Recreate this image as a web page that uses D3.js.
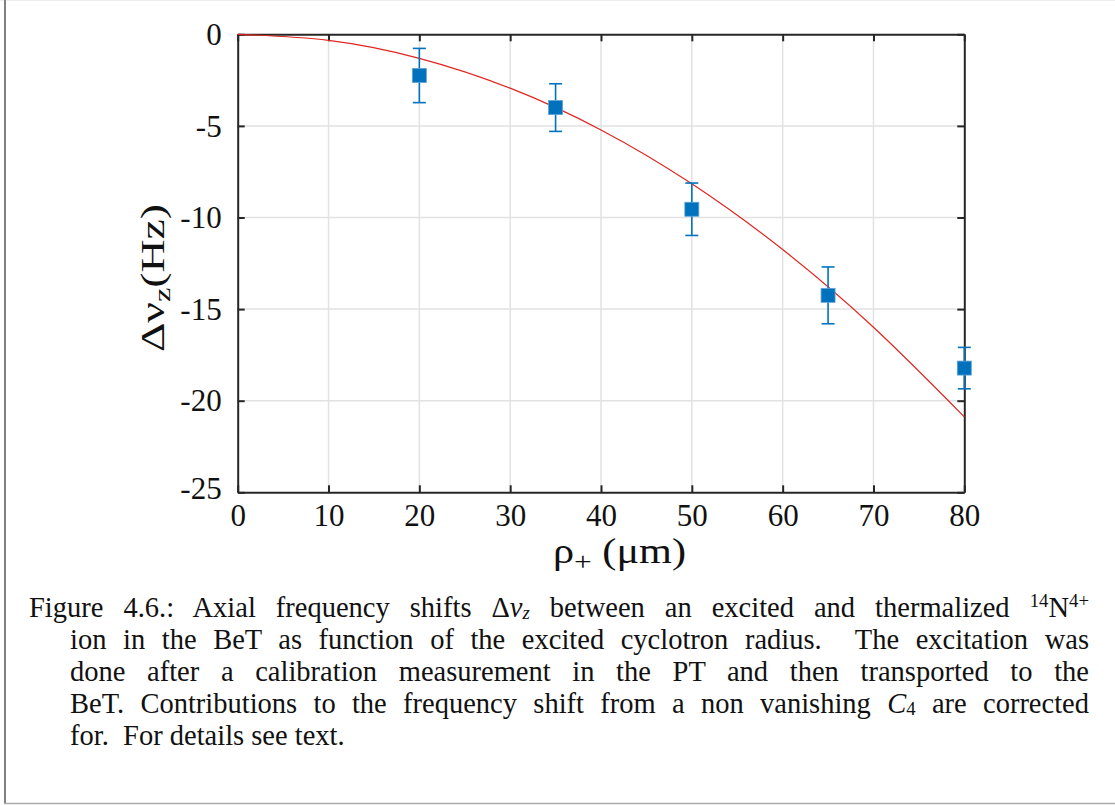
<!DOCTYPE html>
<html>
<head>
<meta charset="utf-8">
<script src="https://cdn.jsdelivr.net/npm/d3@7"></script>
<style>
  body { margin: 0; background: #fff; }
  #wrap { position: relative; width: 1115px; height: 805px; overflow: hidden; }
  svg { position: absolute; left: 0; top: 0; }
  .cap { position: absolute; font-family: "Liberation Serif", serif; font-size: 28.5px; color: #111; white-space: nowrap; }
  .just { text-align: justify; text-align-last: justify; white-space: normal; }
  .cap sup, .cap sub { font-size: 66%; line-height: 0; }
  .cap sub { vertical-align: -0.12em; }
</style>
</head>
<body>
<div id="wrap"></div>
<script>
// measured points
const rho = [20, 35, 50, 65, 80];
const shift = [-2.25, -4.0, -9.55, -14.25, -18.22];
const shiftErr = [1.48, 1.3, 1.43, 1.55, 1.13];

// fit curve
const fitRho = [0, 10, 20, 30, 40, 50, 60, 70, 80];
const fitShift = [0, -0.33, -1.31, -2.94, -5.22, -8.16, -11.75, -15.99, -20.88];

const xTicks = [0, 10, 20, 30, 40, 50, 60, 70, 80];
const yTicks = [0, -5, -10, -15, -20, -25];

const width = 1115;
const height = 805;
const plotL = 237.7, plotR = 964.3, plotT = 34.3, plotB = 492.3;

const wrap = d3.select("#wrap");
const svg = wrap.append("svg").attr("width", width).attr("height", height);

// page frame
svg.append("line").attr("x1", 0).attr("x2", width).attr("y1", 0.5).attr("y2", 0.5)
  .attr("stroke", "#eeeeee").attr("stroke-width", 1);
svg.append("line").attr("x1", 5).attr("x2", 5).attr("y1", 0).attr("y2", 804)
  .attr("stroke", "#808080").attr("stroke-width", 2);
svg.append("line").attr("x1", 4).attr("x2", width).attr("y1", 803.5).attr("y2", 803.5)
  .attr("stroke", "#aaaaaa").attr("stroke-width", 1.5);

const x = d3.scaleLinear().domain([0, 80]).range([plotL, plotR]);
const y = d3.scaleLinear().domain([-25, 0]).range([plotB, plotT]);

// grid
const grid = svg.append("g");
grid.selectAll(".gx").data(xTicks.slice(1, -1)).enter().append("line")
  .attr("x1", d => x(d)).attr("x2", d => x(d)).attr("y1", plotT).attr("y2", plotB)
  .attr("stroke", "#e2e2e2").attr("stroke-width", 1.5);
grid.selectAll(".gy").data(yTicks.slice(1, -1)).enter().append("line")
  .attr("x1", plotL).attr("x2", plotR).attr("y1", d => y(d)).attr("y2", d => y(d))
  .attr("stroke", "#e2e2e2").attr("stroke-width", 1.5);

// axes (ticks inside, box on)
const axisColor = "#262626";
const tl = 7;
const axB = svg.append("g").attr("transform", `translate(0,${plotB})`)
  .call(d3.axisBottom(x).tickValues(xTicks).tickSizeInner(-tl).tickSizeOuter(0).tickPadding(14));
const axT = svg.append("g").attr("transform", `translate(0,${plotT})`)
  .call(d3.axisTop(x).tickValues(xTicks).tickSizeInner(-tl).tickSizeOuter(0).tickFormat(""));
const axL = svg.append("g").attr("transform", `translate(${plotL},0)`)
  .call(d3.axisLeft(y).tickValues(yTicks).tickSizeInner(-tl).tickSizeOuter(0).tickPadding(16));
const axR = svg.append("g").attr("transform", `translate(${plotR},0)`)
  .call(d3.axisRight(y).tickValues(yTicks).tickSizeInner(-tl).tickSizeOuter(0).tickFormat(""));

[axB, axT, axL, axR].forEach(a => {
  a.select(".domain").attr("stroke", axisColor).attr("stroke-width", 2);
  a.selectAll(".tick line").attr("stroke", axisColor).attr("stroke-width", 2);
  a.selectAll(".tick text").attr("fill", "#111")
    .attr("font-family", "'Liberation Serif', serif").attr("font-size", 31);
});
axB.selectAll(".tick text").attr("dy", "0.71em").attr("y", 12);
axL.selectAll(".tick text").text(d => d === 0 ? "0" : "-" + Math.abs(d)).attr("dy", "0.33em");
axL.selectAll(".tick").filter(d => d === -25).select("text").attr("dy", "0.2em");

// fit curve
const line = d3.line().x((d, i) => x(fitRho[i])).y(d => y(d)).curve(d3.curveNatural);
svg.append("path").datum(fitShift).attr("d", line)
  .attr("fill", "none").attr("stroke", "#e0251f").attr("stroke-width", 1.2);

// error bars
const blue = "#0072bd";
const pts = svg.append("g");
const eb = pts.selectAll(".eb").data(rho).enter().append("g");
eb.append("line")
  .attr("x1", d => x(d)).attr("x2", d => x(d))
  .attr("y1", (d, i) => y(shift[i] + shiftErr[i])).attr("y2", (d, i) => y(shift[i] - shiftErr[i]))
  .attr("stroke", blue).attr("stroke-width", 1.6);
[1, -1].forEach(s => {
  eb.append("line")
    .attr("x1", d => x(d) - 6.5).attr("x2", d => x(d) + 6.5)
    .attr("y1", (d, i) => y(shift[i] + s * shiftErr[i])).attr("y2", (d, i) => y(shift[i] + s * shiftErr[i]))
    .attr("stroke", blue).attr("stroke-width", 1.6);
});
eb.append("rect")
  .attr("x", d => x(d) - 7).attr("y", (d, i) => y(shift[i]) - 7)
  .attr("width", 14).attr("height", 14)
  .attr("fill", blue).attr("stroke", "#5fa3d6").attr("stroke-width", 0.8);

// axis labels
const ylab = svg.append("text")
  .attr("transform", `translate(164,278) rotate(-90)`)
  .attr("text-anchor", "middle")
  .attr("font-family", "'Liberation Serif', serif").attr("font-size", 34).attr("fill", "#111")
  .attr("textLength", 148).attr("lengthAdjust", "spacingAndGlyphs");
ylab.append("tspan").text("Δν");
ylab.append("tspan").attr("font-size", 24).attr("dy", 6).text("z");
ylab.append("tspan").attr("dy", -6).text("(Hz)");

const xlab = svg.append("text")
  .attr("x", 619.5).attr("y", 563)
  .attr("text-anchor", "middle")
  .attr("font-family", "'Liberation Serif', serif").attr("font-size", 35).attr("fill", "#111")
  .attr("textLength", 133).attr("lengthAdjust", "spacingAndGlyphs");
xlab.append("tspan").text("ρ");
xlab.append("tspan").attr("font-size", 26).attr("dy", 7).text("+");
xlab.append("tspan").attr("dy", -7).text(" (μm)");

// caption
const capLines = [
  { l: 29, html: "Figure 4.6.: Axial frequency shifts Δ<i>ν<sub>z</sub></i> between an excited and thermalized <sup>14</sup>N<sup>4+</sup>", just: true },
  { l: 70, html: "ion in the BeT as function of the excited cyclotron radius. &nbsp;The excitation was", just: true },
  { l: 70, html: "done after a calibration measurement in the PT and then transported to the", just: true },
  { l: 70, html: "BeT. Contributions to the frequency shift from a non vanishing <i>C</i><sub>4</sub> are corrected", just: true },
  { l: 70, html: "for. &nbsp;For details see text.", just: false }
];
const capBase = 618, capStep = 32;
wrap.selectAll(".cap").data(capLines).enter().append("div")
  .attr("class", d => d.just ? "cap just" : "cap")
  .style("left", d => d.l + "px")
  .style("width", d => d.just ? (1089 - d.l) + "px" : null)
  .style("top", (d, i) => (capBase + i * capStep - 25) + "px")
  .style("line-height", "30px")
  .html(d => d.html);
</script>
</body>
</html>
